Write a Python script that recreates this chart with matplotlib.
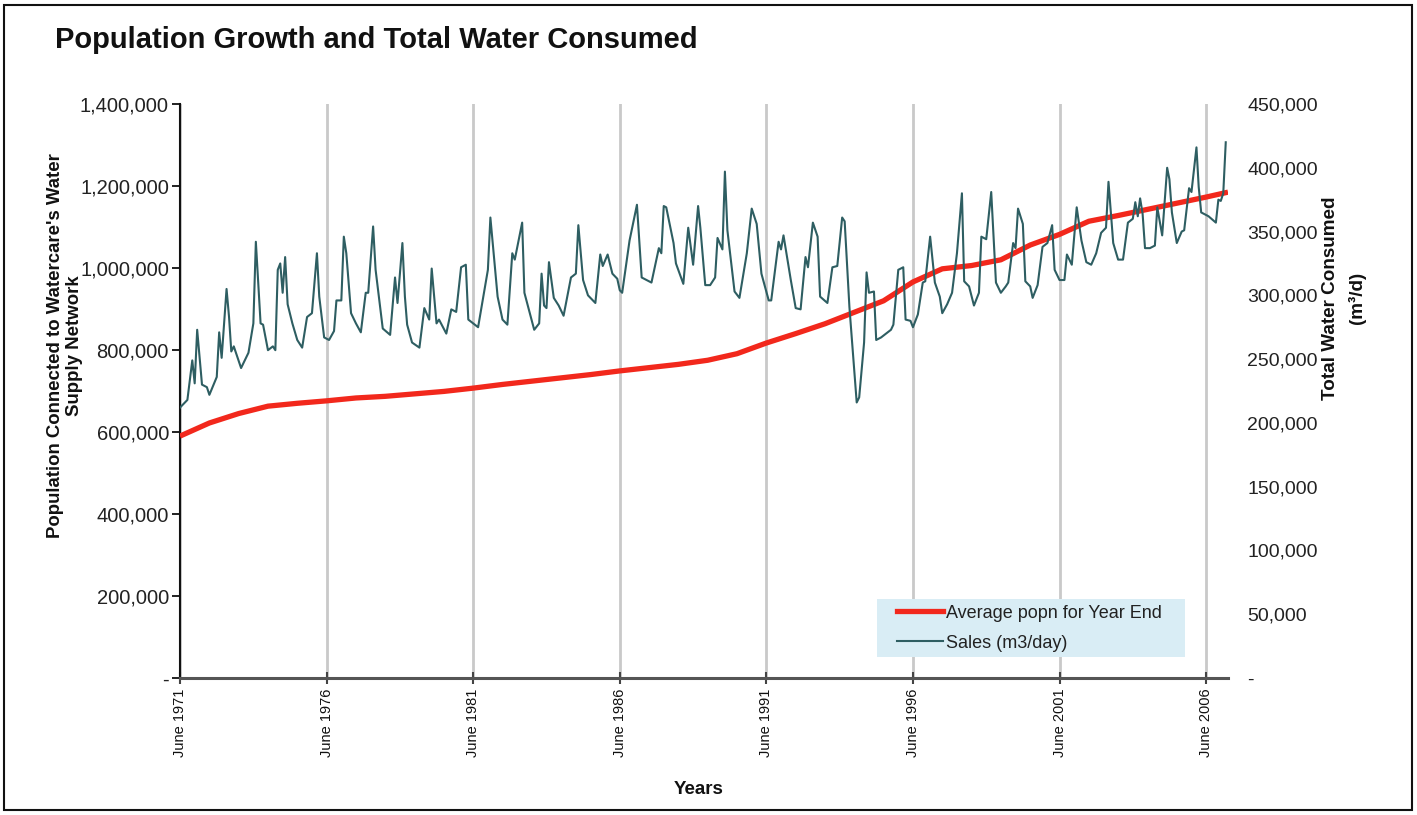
import matplotlib
matplotlib.use('Agg')
import matplotlib.pyplot as plt
from matplotlib.patches import Rectangle
from matplotlib.lines import Line2D
from matplotlib.ticker import FuncFormatter, FixedLocator
import pandas as pd
import numpy as np

plt.rcParams['font.family'] = ['Liberation Sans', 'DejaVu Sans']

# ---------------- data ----------------
base_date = '1971-06-01'          # month index 0
tick_years = [1971, 1976, 1981, 1986, 1991, 1996, 2001, 2006]
tick_labels = ['June %d' % y for y in tick_years]

# Average population for year end (month index, persons)
pop_month = [0, 12, 24, 36, 48, 60, 72, 84, 96, 108, 120, 132, 144, 156, 168, 180,
             192, 204, 216, 228, 240, 252, 264, 276, 288, 300, 312, 324, 336, 348,
             360, 372, 384, 396, 408, 420, 429]
pop_value = [590, 622, 645, 663, 670, 676, 683, 687, 693, 699, 707, 716, 724, 732,
             740, 749, 757, 765, 775, 791, 817, 840, 864, 892, 920, 966, 998, 1006,
             1020, 1056, 1082, 1114, 1128, 1143, 1158, 1173, 1185]
pop_value = [v * 1000 for v in pop_value]

# Sales (m3/day) (month index, thousand m3/day)
sales_month = [0, 3, 5, 6, 7, 9, 11, 12, 15, 16, 17, 19, 20, 21, 22, 25, 28, 30, 31, 33,
               34, 36, 38, 39, 40, 41, 42, 43, 44, 46, 48, 50, 52, 54, 56, 57, 59, 61, 63, 64,
               66, 67, 68, 70, 72, 74, 76, 77, 79, 80, 83, 86, 88, 89, 91, 92, 93, 95, 98, 100,
               102, 103, 105, 106, 109, 111, 113, 115, 117, 118, 122, 126, 127, 130, 132, 134,
               136, 137, 140, 141, 145, 147, 148, 149, 150, 151, 153, 155, 157, 160, 162, 163,
               165, 167, 170, 172, 173, 175, 177, 179, 180, 181, 184, 187, 189, 193, 196, 197,
               198, 199, 202, 203, 206, 208, 210, 212, 213, 215, 217, 219, 220, 222, 223, 224,
               227, 229, 232, 234, 236, 238, 241, 242, 245, 246, 247, 250, 252, 254, 256, 257,
               259, 261, 262, 265, 267, 269, 271, 272, 274, 277, 278, 280, 281, 282, 284, 285,
               287, 291, 292, 294, 296, 297, 299, 300, 302, 304, 305, 307, 309, 311, 312, 314,
               316, 318, 320, 321, 323, 325, 327, 328, 330, 332, 334, 336, 338, 339, 341, 342,
               343, 345, 346, 348, 349, 351, 353, 355, 357, 358, 360, 362, 363, 365, 367, 369,
               371, 373, 375, 377, 379, 380, 382, 384, 386, 388, 390, 391, 392, 393, 394, 395,
               397, 399, 400, 402, 404, 405, 406, 408, 410, 411, 413, 414, 416, 417, 418, 421,
               424, 425, 426, 427, 428]
sales_value = [212, 218, 249, 231, 273, 230, 228, 222, 236, 271, 251, 305, 283, 256, 260, 243,
               255, 278, 342, 278, 277, 257, 260, 257, 320, 325, 302, 330, 293, 278, 265, 259,
               283, 286, 333, 299, 267, 265, 272, 296, 296, 346, 333, 286, 278, 271, 302, 302,
               354, 320, 274, 269, 314, 294, 341, 299, 277, 263, 259, 290, 281, 321, 278, 281,
               270, 289, 287, 322, 324, 281, 275, 320, 361, 299, 281, 277, 333, 328, 357, 302,
               273, 278, 317, 292, 290, 326, 298, 292, 284, 314, 317, 355, 312, 300, 294, 332,
               323, 332, 317, 313, 304, 302, 343, 371, 314, 310, 337, 333, 370, 369, 341, 325,
               309, 353, 324, 370, 353, 308, 308, 314, 345, 336, 397, 351, 303, 298, 333, 368,
               356, 317, 296, 296, 342, 336, 347, 312, 290, 289, 330, 322, 357, 346, 299, 294,
               322, 323, 361, 358, 291, 216, 220, 263, 318, 302, 303, 265, 267, 273, 277, 320,
               322, 281, 280, 275, 285, 310, 311, 346, 310, 299, 286, 293, 302, 333, 380, 311,
               307, 292, 302, 346, 344, 381, 310, 302, 307, 310, 341, 337, 368, 356, 311, 307,
               298, 308, 338, 341, 355, 320, 312, 312, 332, 324, 369, 343, 326, 324, 333, 349,
               353, 389, 341, 328, 328, 357, 360, 373, 362, 376, 364, 337, 337, 339, 369, 347,
               400, 391, 365, 341, 350, 351, 384, 381, 416, 385, 365, 362, 357, 375, 374, 380,
               420]
sales_value = [v * 1000 for v in sales_value]

left_ticks = [0, 200000, 400000, 600000, 800000, 1000000, 1200000, 1400000]
right_ticks = [0, 50000, 100000, 150000, 200000, 250000, 300000, 350000, 400000, 450000]

# ---------------- helpers ----------------
base = pd.Timestamp(base_date)
def to_dates(months):
    return pd.to_datetime([base + pd.DateOffset(months=int(m)) for m in months]).to_numpy()

pop_dates = to_dates(pop_month)
sales_dates = to_dates(sales_month)
tick_dates = pd.to_datetime(['%d-06-01' % y for y in tick_years]).to_numpy()

RED = '#f2281c'
TEAL = '#2e5e62'

W, H = 1417, 815
fig = plt.figure(figsize=(W / 100, H / 100), dpi=100)
fig.patch.set_facecolor('white')

def rect_px(x0, y0, x1, y1):
    return [x0 / W, 1 - y1 / H, (x1 - x0) / W, (y1 - y0) / H]

ax = fig.add_axes(rect_px(180, 104, 1228, 678))
ax2 = ax.twinx()

ax.plot(pop_dates, pop_value, color=RED, lw=3.8, solid_capstyle='butt', zorder=3)
ax2.plot(sales_dates, sales_value, color=TEAL, lw=1.5, zorder=3)

ax.set_xlim(base, pd.Timestamp('2007-03-01'))
ax.set_ylim(0, 1400000)
ax2.set_ylim(0, 450000)

ax.xaxis.set_major_locator(FixedLocator(matplotlib.dates.date2num(tick_dates)))
ax.set_xticklabels(tick_labels)
ax.grid(axis='x', color='#c9c9c9', lw=2)
ax.set_axisbelow(True)

fmt = FuncFormatter(lambda v, p: '-' if v == 0 else '{:,.0f}'.format(v))
ax.yaxis.set_major_locator(FixedLocator(left_ticks))
ax.yaxis.set_major_formatter(fmt)
ax2.yaxis.set_major_locator(FixedLocator(right_ticks))
ax2.yaxis.set_major_formatter(fmt)

for s in ['top', 'right']:
    ax.spines[s].set_visible(False)
for s in ['top', 'right', 'left', 'bottom']:
    ax2.spines[s].set_visible(False)
ax.spines['bottom'].set_color('#555555')
ax.spines['bottom'].set_linewidth(2.2)
ax.spines['left'].set_color('#111111')
ax.spines['left'].set_linewidth(1.5)

ax.tick_params(axis='x', direction='inout', length=9, width=1.5, color='#444444',
               labelrotation=90, labelsize=10.5, pad=3, labelcolor='#111111')
ax.tick_params(axis='y', direction='out', length=6, width=1.3, color='#111111',
               labelsize=14.5, pad=2, labelcolor='#222222')
ax2.tick_params(axis='y', length=0, labelsize=14, pad=14, labelcolor='#222222')

# legend
ax2.add_patch(Rectangle((0.665, 0.0366), 0.294, 0.101, transform=ax2.transAxes,
                        facecolor='#d9edf5', edgecolor='none', zorder=4))
handles = [Line2D([], [], color=RED, lw=3.8), Line2D([], [], color=TEAL, lw=1.5)]
leg = ax2.legend(handles, ['Average popn for Year End', 'Sales (m3/day)'],
                 loc='center left', bbox_to_anchor=(0.684, 0.0870), frameon=False,
                 fontsize=13, handlelength=2.55, handletextpad=0.2, borderpad=0,
                 borderaxespad=0, labelspacing=0.72)
leg.set_zorder(5)
for t in leg.get_texts():
    t.set_color('#222222')

# texts
fig.text(55 / W, 1 - 40 / H, 'Population Growth and Total Water Consumed',
         fontsize=21, fontweight='bold', ha='left', va='center', color='#111111')
fig.text(65 / W, 1 - 346 / H, "Population Connected to Watercare's Water\nSupply Network",
         rotation=90, ha='center', va='center', multialignment='center',
         fontsize=13.4, fontweight='bold', color='#111111', linespacing=1.2)
fig.text(1344 / W, 1 - 298 / H, 'Total Water Consumed\n(m\u00b3/d)',
         rotation=90, ha='center', va='center', multialignment='center',
         fontsize=13.6, fontweight='bold', color='#111111', linespacing=1.6)
fig.text(699 / W, 1 - 790 / H, 'Years', ha='center', va='center',
         fontsize=13.5, fontweight='bold', color='#111111')

# outer frame
fig.add_artist(Rectangle((4 / W, 5 / H), (1412 - 4) / W, (810 - 5) / H,
                         transform=fig.transFigure, fill=False, edgecolor='#111111', lw=1.5))

fig.savefig('out.png', dpi=100, facecolor='white')
